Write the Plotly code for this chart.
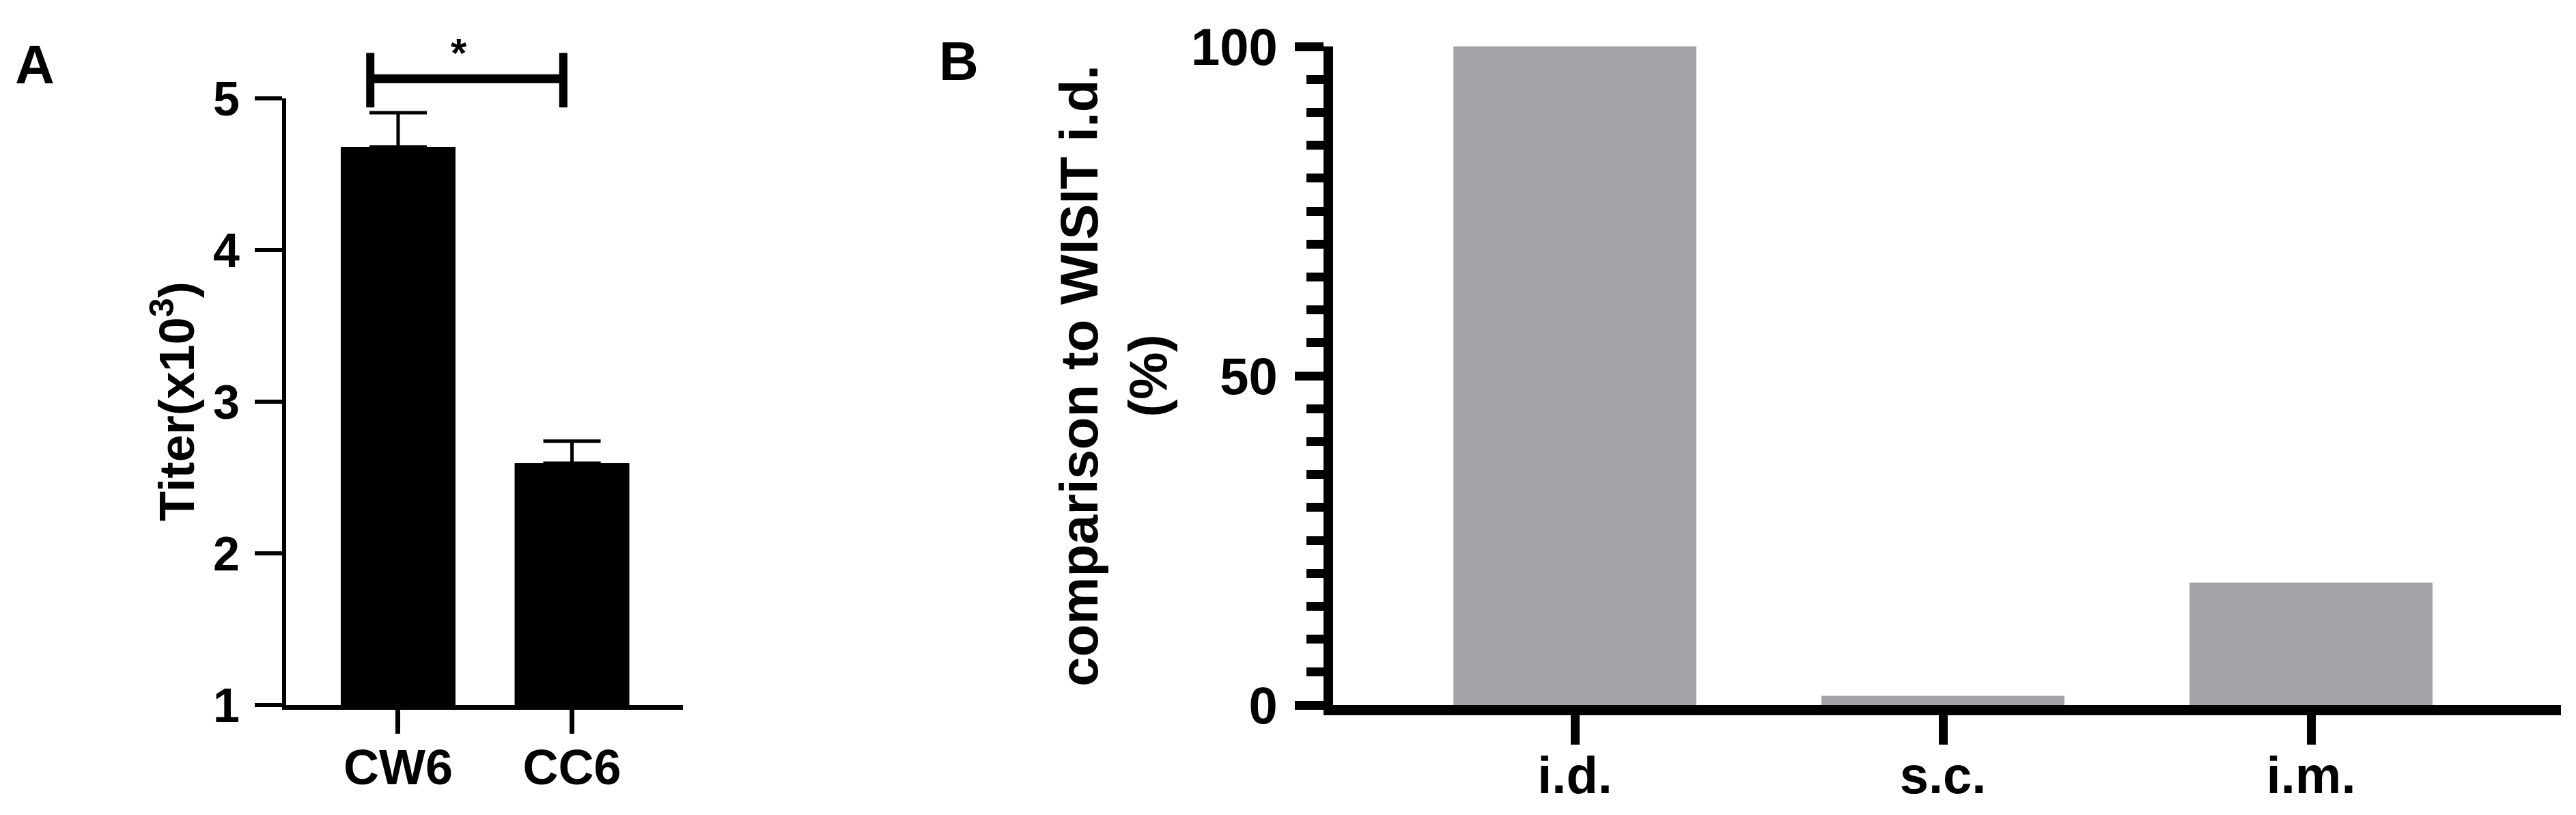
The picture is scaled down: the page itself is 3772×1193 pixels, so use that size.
import plotly.graph_objects as go

# ---------------- data ----------------
a_categories = ["CW6", "CC6"]
a_values = [4.68, 2.595]
a_errors = [0.225, 0.145]
a_yticks = [1, 2, 3, 4, 5]

b_categories = ["i.d.", "s.c.", "i.m."]
b_values = [100, 1.4, 18.6]
b_yticks = [0, 50, 100]

# significance bracket (category units / data units)
sig_left = -0.16
sig_right = 0.95
sig_y = 5.13
sig_low = 4.94
sig_high = 5.30
sig_text = "*"

# ---------------- layout geometry ----------------
W, H = 3772, 1193
FONT = "Liberation Sans, Arial, Helvetica, sans-serif"

a_xdom = [419 / W, 1000 / W]
a_ydom = [1 - 1032 / H, 1 - 144 / H]
a_xrng = [-0.644, 1.638]
a_yrng = [1, 5]

b_xdom = [1952 / W, 3750 / W]
b_ydom = [1 - 1032 / H, 1 - 68 / H]
b_xrng = [-0.657, 2.679]
b_yrng = [0, 100]


def px_x(v, dom, rng):
    return dom[0] + (v - rng[0]) / (rng[1] - rng[0]) * (dom[1] - dom[0])


def py_y(v, dom, rng):
    return dom[0] + (v - rng[0]) / (rng[1] - rng[0]) * (dom[1] - dom[0])


fig = go.Figure()

fig.add_trace(go.Bar(
    x=list(range(len(a_categories))), y=a_values,
    marker=dict(color="black", line=dict(width=0)),
    error_y=dict(type="data", array=a_errors, arrayminus=[0] * len(a_errors),
                 symmetric=False, color="black", thickness=5, width=42),
    xaxis="x", yaxis="y", showlegend=False, hoverinfo="skip",
))

fig.add_trace(go.Bar(
    x=list(range(len(b_categories))), y=b_values,
    marker=dict(color="#a3a2a7", line=dict(width=0)),
    xaxis="x2", yaxis="y2", showlegend=False, hoverinfo="skip",
))

tick_font_a_y = dict(family=FONT, size=70, color="black", weight="bold")
tick_font_a_x = dict(family=FONT, size=72, color="black", weight="bold")
tick_font_b = dict(family=FONT, size=76, color="black", weight="bold")

common = dict(showgrid=False, zeroline=False, automargin=False,
              linecolor="black", showline=True, tickcolor="black", ticks="outside")

fig.update_layout(
    template="none",
    width=W, height=H, autosize=False,
    margin=dict(l=0, r=0, t=0, b=0, pad=0),
    paper_bgcolor="white", plot_bgcolor="white",
    bargap=0.34,
    showlegend=False,
    xaxis=dict(domain=a_xdom, range=a_xrng, anchor="y",
               tickmode="array", tickvals=list(range(len(a_categories))),
               ticktext=a_categories, tickfont=tick_font_a_x,
               linewidth=7, ticklen=35, tickwidth=7,
               ticklabelstandoff=-12, **common),
    yaxis=dict(domain=a_ydom, range=a_yrng, anchor="x",
               tickmode="array", tickvals=a_yticks,
               ticktext=[str(t) for t in a_yticks], tickfont=tick_font_a_y,
               linewidth=6, ticklen=40, tickwidth=6,
               ticklabelstandoff=8, **common),
    xaxis2=dict(domain=b_xdom, range=b_xrng, anchor="y2",
                tickmode="array", tickvals=list(range(len(b_categories))),
                ticktext=b_categories, tickfont=tick_font_b,
                linewidth=15, ticklen=43, tickwidth=13,
                ticklabelstandoff=-20, **common),
    yaxis2=dict(domain=b_ydom, range=b_yrng, anchor="x2",
                tickmode="array", tickvals=b_yticks,
                ticktext=[str(t) for t in b_yticks], tickfont=tick_font_b,
                linewidth=14, ticklen=42, tickwidth=13,
                minor=dict(dtick=5, tick0=0, ticks="outside", ticklen=25,
                           tickwidth=13, tickcolor="black", showgrid=False),
                ticklabelstandoff=10, **common),
)

# significance bracket as paper-referenced lines (not clipped)
xl = px_x(sig_left, a_xdom, a_xrng)
xr = px_x(sig_right, a_xdom, a_xrng)
ym = py_y(sig_y, a_ydom, a_yrng)
y0 = py_y(sig_low, a_ydom, a_yrng)
y1 = py_y(sig_high, a_ydom, a_yrng)
fig.add_shape(type="line", xref="paper", yref="paper", x0=xl, x1=xr, y0=ym, y1=ym,
              line=dict(color="black", width=13))
fig.add_shape(type="line", xref="paper", yref="paper", x0=xl, x1=xl, y0=y0, y1=y1,
              line=dict(color="black", width=12))
fig.add_shape(type="line", xref="paper", yref="paper", x0=xr, x1=xr, y0=y0, y1=y1,
              line=dict(color="black", width=12))

fig.add_annotation(text=sig_text, xref="paper", yref="paper",
                   x=px_x(0.35, a_xdom, a_xrng), y=py_y(5.30, a_ydom, a_yrng),
                   xanchor="center", yanchor="middle", showarrow=False,
                   font=dict(family=FONT, size=60, color="black", weight="bold"))

# panel letters
fig.add_annotation(text="A", xref="paper", yref="paper", x=51 / W, y=1 - 95 / H,
                   xanchor="center", yanchor="middle", showarrow=False,
                   font=dict(family=FONT, size=80, color="black", weight="bold"))
fig.add_annotation(text="B", xref="paper", yref="paper", x=1404 / W, y=1 - 90 / H,
                   xanchor="center", yanchor="middle", showarrow=False,
                   font=dict(family=FONT, size=80, color="black", weight="bold"))

# axis titles
fig.add_annotation(text="Titer(x10<sup>3</sup>)", xref="paper", yref="paper",
                   x=253 / W, y=sum(a_ydom) / 2, textangle=-90,
                   xanchor="center", yanchor="middle", showarrow=False,
                   font=dict(family=FONT, size=72, color="black", weight="bold"))
fig.add_annotation(text="comparison to WISIT i.d.<br>(%)", xref="paper", yref="paper",
                   x=1630 / W, y=sum(b_ydom) / 2, textangle=-90,
                   xanchor="center", yanchor="middle", showarrow=False,
                   font=dict(family=FONT, size=78, color="black", weight="bold"))

fig.write_html("out.html", config={"displayModeBar": False},
               post_script="document.body.style.margin='0';document.body.style.overflow='hidden';")
